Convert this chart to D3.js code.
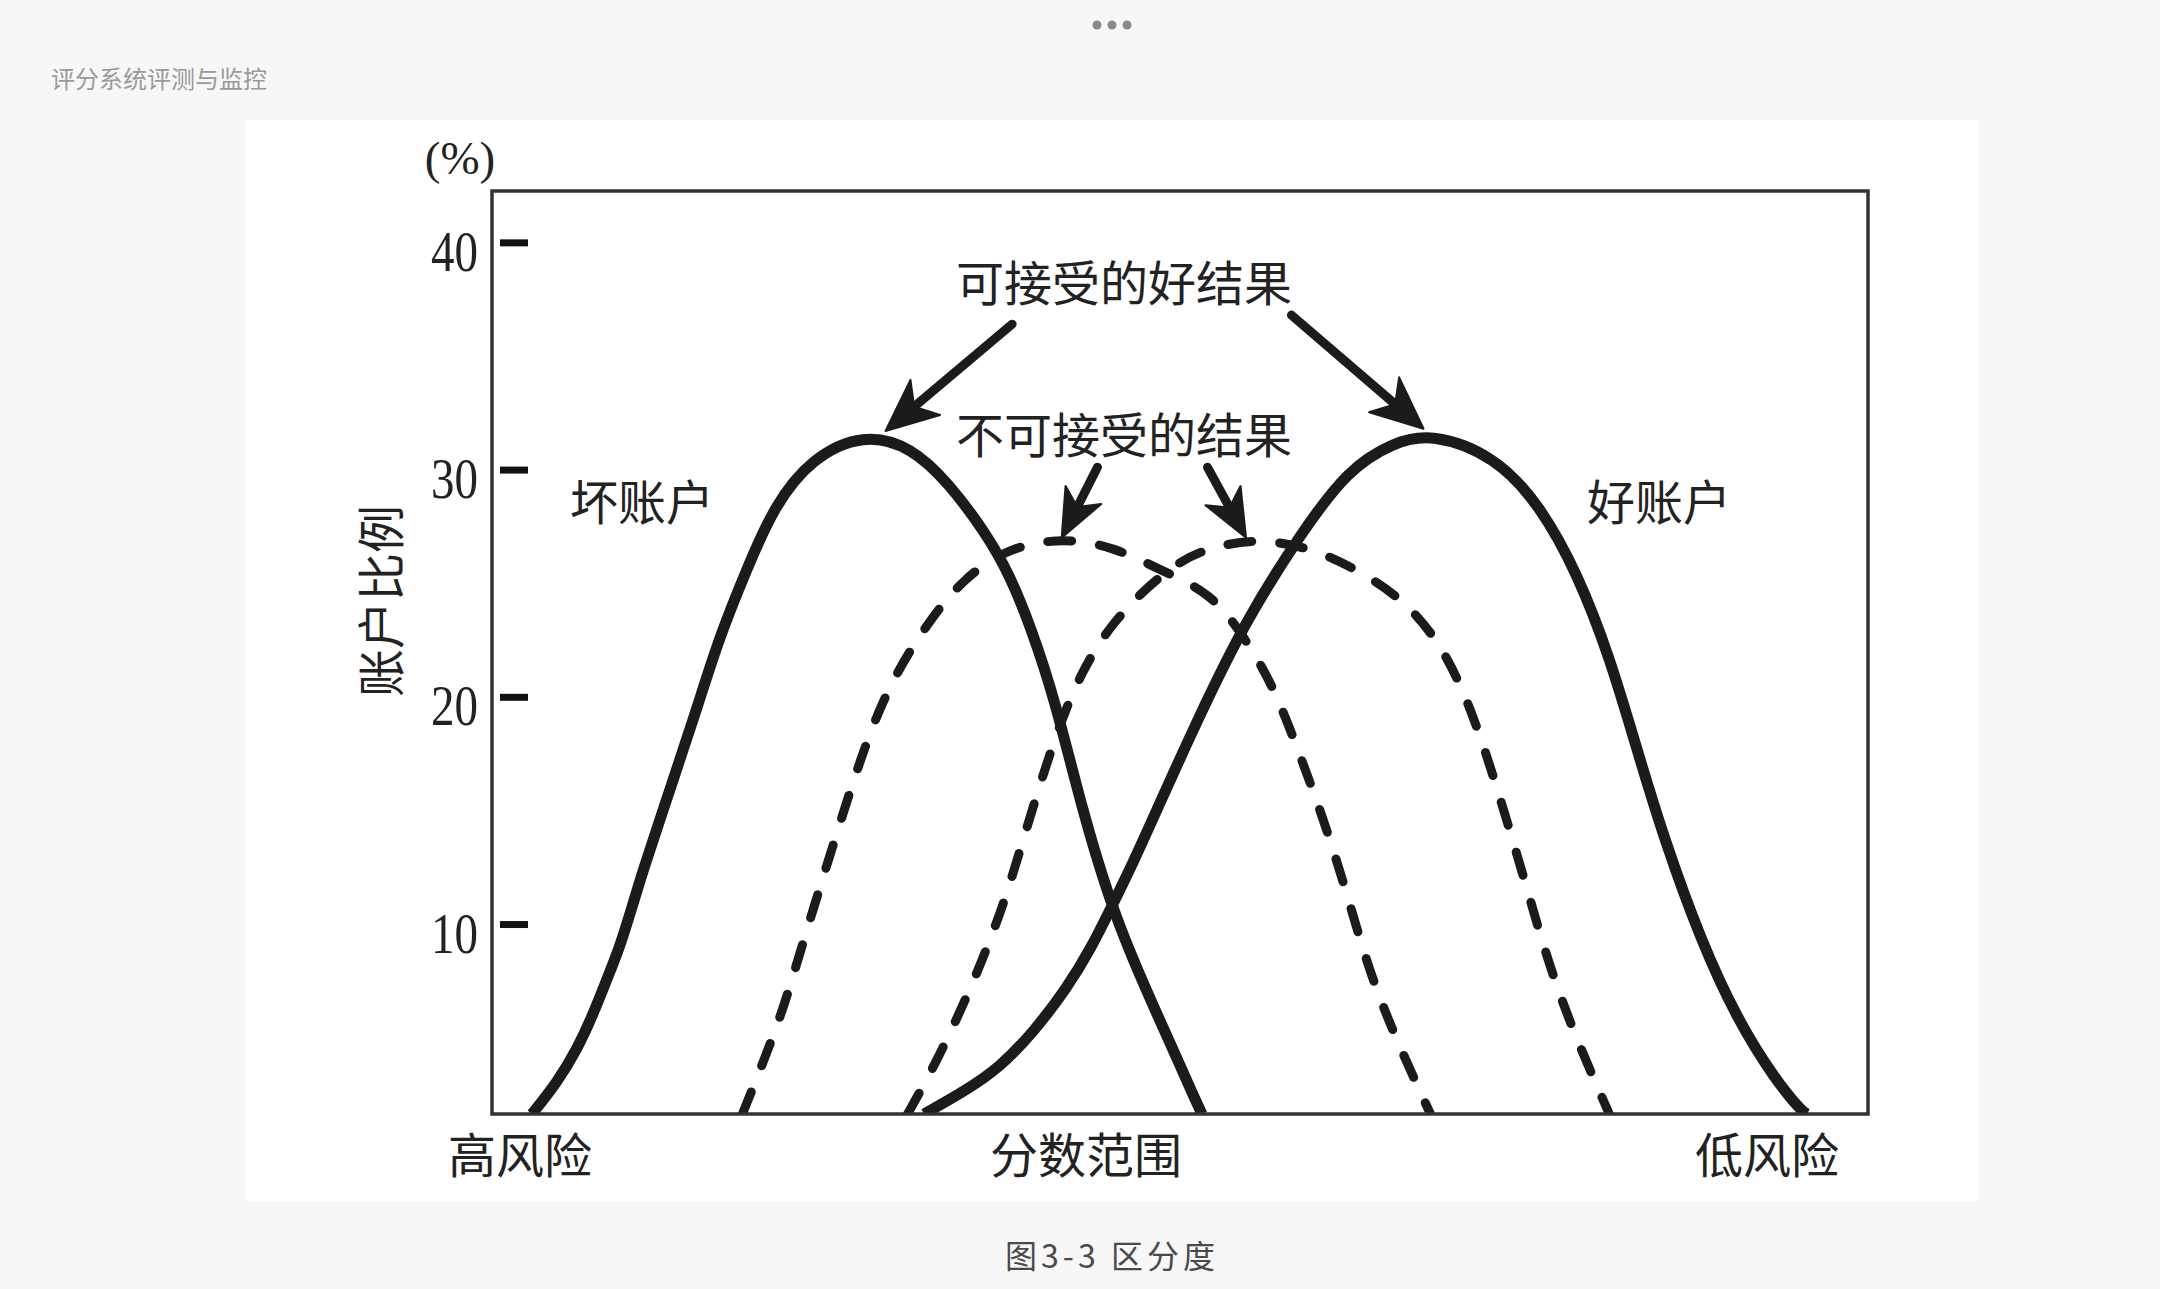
<!DOCTYPE html>
<html><head><meta charset="utf-8">
<script src="https://cdn.jsdelivr.net/npm/d3@7"></script>
<style>html,body{margin:0;padding:0;background:#f7f7f7;} svg{display:block}</style>
</head><body><svg id="c" width="2160" height="1289"></svg>
<script>
// ---------- data ----------
const headerTitle = "评分系统评测与监控";
const captionText = "图3-3 区分度";
const yUnit = "(%)";
const yAxisTitle = "账户比例";
const yTicks = [10, 20, 30, 40];
const xCategoryLabels = ["高风险", "分数范围", "低风险"];
const seriesNames = ["坏账户", "好账户"];
const annotationTop = "可接受的好结果";
const annotationMid = "不可接受的结果";

// [score (0-100 across axis), share of accounts %]
const badAccounts = [[2.9,1.64],[4.7,3.0],[6.2,4.5],[7.4,6.1],[8.3,7.5],[9.3,9.0],[10.2,10.8],[11.0,12.4],[12.1,14.4],[13.3,16.6],[14.9,19.5],[16.5,22.6],[18.5,25.6],[20.5,28.4],[23.2,30.5],[27.0,31.6],[30.5,31.0],[33.2,29.4],[35.9,27.2],[37.6,25.4],[39.2,23.0],[40.9,19.9],[42.9,15.0],[44.9,11.0],[46.6,8.4],[48.5,5.8],[50.0,3.8],[51.0,2.4],[51.6,1.64]];
const goodAccounts = [[31.4,1.64],[34.5,2.7],[36.9,3.7],[39.3,5.2],[41.8,7.2],[43.5,8.9],[44.9,10.6],[46.6,12.7],[48.3,15.0],[51.2,18.9],[54.8,23.4],[58.8,27.2],[62.2,30.0],[65.5,31.2],[68.3,31.6],[72.9,30.6],[76.2,28.4],[78.9,25.4],[81.2,21.8],[83.2,17.7],[85.2,13.7],[87.9,9.2],[90.5,5.8],[93.2,3.2],[95.2,1.74],[95.6,1.64]];
const unacceptableBad = [[18.2,1.64],[19.7,3.9],[21.2,6.3],[22.6,9.2],[24.9,13.7],[27.2,18.1],[29.2,20.9],[31.6,23.2],[34.2,25.2],[37.6,26.6],[41.6,27.0],[45.2,26.6],[48.5,25.6],[52.2,24.6],[54.5,22.8],[56.8,20.5],[58.8,17.3],[60.5,14.5],[62.2,11.2],[63.8,7.8],[65.8,4.8],[68.2,1.64]];
const unacceptableGood = [[30.2,1.64],[32.1,3.7],[34.0,6.1],[35.7,8.5],[37.2,10.9],[38.4,13.3],[40.9,18.3],[42.9,21.2],[44.9,23.1],[47.2,24.6],[49.2,25.6],[51.2,26.4],[55.2,27.0],[59.5,26.6],[63.5,25.4],[66.8,24.0],[69.5,21.8],[71.5,18.9],[73.2,15.7],[75.2,11.6],[76.9,8.0],[78.9,4.8],[81.2,1.64]];

// arrows in data coordinates: [from, to]
const arrows = [
  [[37.8,36.4],[28.6,31.7]],
  [[58.1,36.8],[67.7,31.8]],
  [[44.0,30.1],[41.4,27.0]],
  [[52.0,30.1],[54.8,27.0]]
];

// ---------- drawing ----------
const W = 2160, H = 1289;
const svg = d3.select("#c");
svg.append("rect").attr("width", W).attr("height", H).attr("fill", "#f7f7f7");

svg.selectAll("circle.dot").data([-15, 0, 15]).join("circle")
  .attr("class", "dot").attr("cx", d => 1112 + d).attr("cy", 25).attr("r", 4.5).attr("fill", "#8a8a8a");

svg.append("text").attr("x", 51).attr("y", 77).attr("dominant-baseline", "central")
  .attr("font-family", "'Noto Sans CJK SC'").attr("font-size", 24).attr("fill", "#9a9a9a")
  .text(headerTitle);

svg.append("rect").attr("x", 245).attr("y", 120).attr("width", 1733).attr("height", 1081).attr("fill", "#fff");

svg.append("text").attr("x", 1112).attr("y", 1254).attr("text-anchor", "middle").attr("dominant-baseline", "central")
  .attr("font-family", "'Noto Sans CJK SC'").attr("font-size", 32).attr("letter-spacing", 4).attr("fill", "#4a4a4a")
  .text(captionText);

const x = d3.scaleLinear().domain([0, 100]).range([492, 1868]);
const y = d3.scaleLinear().domain([1.64, 42.26]).range([1114, 191]);

const defs = svg.append("defs");
defs.append("clipPath").attr("id", "plotclip").append("rect")
  .attr("x", x(0)).attr("y", y(42.26)).attr("width", x(100) - x(0)).attr("height", y(1.64) - y(42.26));

const line = d3.line().x(d => x(d[0])).y(d => y(d[1])).curve(d3.curveBasis);
const ink = "#1b1b1b";
const plot = svg.append("g").attr("clip-path", "url(#plotclip)");

[unacceptableBad, unacceptableGood].forEach(s => {
  plot.append("path").datum(s).attr("d", line).attr("fill", "none").attr("stroke", ink)
    .attr("stroke-width", 9).attr("stroke-linecap", "round").attr("stroke-dasharray", "24,28");
});
[badAccounts, goodAccounts].forEach(s => {
  plot.append("path").datum(s).attr("d", line).attr("fill", "none").attr("stroke", ink)
    .attr("stroke-width", 11);
});

// frame
svg.append("rect").attr("x", x(0)).attr("y", y(42.26)).attr("width", x(100) - x(0)).attr("height", y(1.64) - y(42.26))
  .attr("fill", "none").attr("stroke", "#333").attr("stroke-width", 3.5);

// y axis ticks (inside frame) and labels
const gAxis = svg.append("g").attr("transform", `translate(${x(0) + 8},0)`)
  .call(d3.axisRight(y).tickValues(yTicks).tickSize(28).tickPadding(0));
gAxis.select(".domain").remove();
gAxis.selectAll(".tick line").attr("stroke", "#111").attr("stroke-width", 7);
gAxis.selectAll(".tick text").attr("x", -22).attr("dy", "0.36em").attr("text-anchor", "end")
  .attr("transform", "translate(0,8)")
  .attr("font-family", "'Liberation Serif', serif").attr("font-size", 56).attr("fill", "#222")
  .attr("textLength", 47).attr("lengthAdjust", "spacingAndGlyphs");

svg.append("text").attr("x", 460).attr("y", 158).attr("text-anchor", "middle").attr("dominant-baseline", "central")
  .attr("font-family", "'Liberation Serif', serif").attr("font-size", 47).attr("fill", "#222").text(yUnit);

svg.append("text").attr("transform", "translate(378,601) rotate(-90)").attr("text-anchor", "middle")
  .attr("dominant-baseline", "central").attr("font-family", "'Noto Sans CJK SC'").attr("font-size", 48)
  .attr("fill", "#222").text(yAxisTitle);

const cjk = (t, px, py, anchor) => svg.append("text").attr("x", px).attr("y", py)
  .attr("text-anchor", anchor || "middle").attr("dominant-baseline", "central")
  .attr("font-family", "'Noto Sans CJK SC'").attr("font-size", 48).attr("fill", "#222").text(t);

cjk(seriesNames[0], 642, 499);
cjk(seriesNames[1], 1659, 499);
cjk(annotationTop, 1124, 280);
cjk(annotationMid, 1124, 432);
cjk(xCategoryLabels[0], 520, 1152);
cjk(xCategoryLabels[1], 1086, 1152);
cjk(xCategoryLabels[2], 1767, 1152);

// arrows
arrows.forEach(([f, t], i) => {
  const x0 = x(f[0]), y0 = y(f[1]), x1 = x(t[0]), y1 = y(t[1]);
  const dx = x1 - x0, dy = y1 - y0, len = Math.hypot(dx, dy);
  const ux = dx / len, uy = dy / len, px = -uy, py = ux;
  const L = i < 2 ? 52 : 48, w = i < 2 ? 23 : 20;
  const bx = x1 - ux * L, by = y1 - uy * L;
  const nx = x1 - ux * L * 0.72, ny = y1 - uy * L * 0.72;
  svg.append("line").attr("x1", x0).attr("y1", y0).attr("x2", nx).attr("y2", ny)
    .attr("stroke", ink).attr("stroke-width", 9).attr("stroke-linecap", "round");
  svg.append("path").attr("d", `M${x1},${y1}L${bx + px * w},${by + py * w}L${nx},${ny}L${bx - px * w},${by - py * w}Z`)
    .attr("fill", ink).attr("stroke", ink).attr("stroke-width", 2).attr("stroke-linejoin", "round");
});
</script></body></html>
